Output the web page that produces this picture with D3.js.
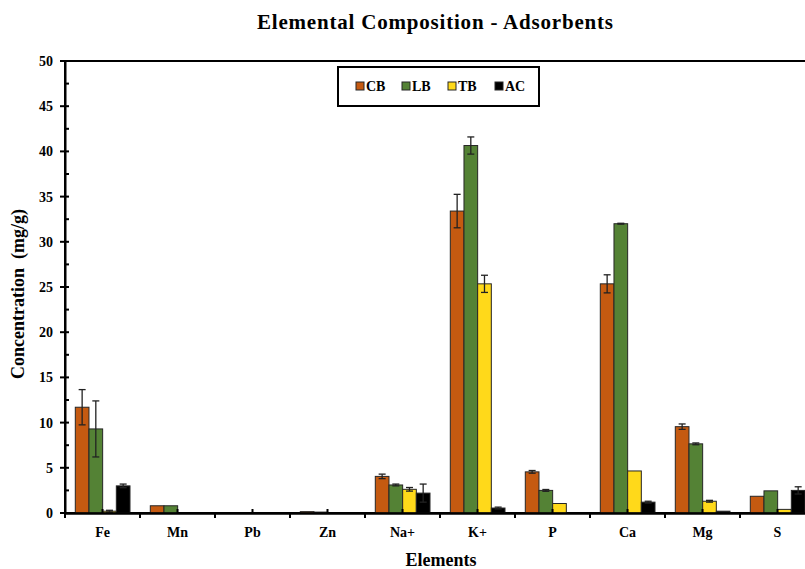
<!DOCTYPE html>
<html><head><meta charset="utf-8">
<script src="https://cdn.jsdelivr.net/npm/d3@7"></script>
<style>body{margin:0;background:#fff;} svg{display:block;}</style>
</head><body>
<svg id="c" width="805" height="569"></svg>
<script>
const categories = ["Fe","Mn","Pb","Zn","Na+","K+","P","Ca","Mg","S"];
const seriesNames = ["CB","LB","TB","AC"];
const colors = ["#C55A11","#548235","#FFD91A","#000000"];
const CB    = [11.7, 0.8, 0, 0.15, 4.05, 33.4, 4.55, 25.35, 9.55, 1.85];
const CBerr = [1.95, 0, 0, 0, 0.25, 1.85, 0.15, 1.0, 0.3, 0];
const LB    = [9.3, 0.8, 0, 0.1, 3.1, 40.65, 2.5, 32.0, 7.65, 2.45];
const LBerr = [3.1, 0, 0, 0, 0.1, 0.95, 0.1, 0.05, 0.1, 0];
const TB    = [0.2, 0, 0, 0, 2.62, 25.35, 1.05, 4.65, 1.3, 0.4];
const TBerr = [0.1, 0, 0, 0, 0.2, 0.95, 0, 0, 0.1, 0];
const AC    = [3.0, 0, 0, 0, 2.2, 0.55, 0, 1.2, 0.2, 2.5];
const ACerr = [0.2, 0, 0, 0, 1.0, 0.1, 0, 0.1, 0, 0.4];
const yTicks = [0,5,10,15,20,25,30,35,40,45,50];

const values = [CB, LB, TB, AC];
const errs = [CBerr, LBerr, TBerr, ACerr];
const font = "'Liberation Serif', serif";

const svg = d3.select("#c");
const L = 65, R = 815, T = 61, B = 513;
const x = d3.scaleBand().domain(categories).range([L, R]).padding(0);
const x1 = d3.scaleBand().domain(seriesNames).range([10.3, 65]).padding(0);
const y = d3.scaleLinear().domain([0, 50]).range([B, T]);

// plot border
svg.append("rect").attr("x", L).attr("y", T).attr("width", R - L).attr("height", B - T)
  .attr("fill", "none").attr("stroke", "#000").attr("stroke-width", 2);

// bars
const data = [];
categories.forEach((c, i) => seriesNames.forEach((s, j) => data.push({c, s, j, v: values[j][i], e: errs[j][i]})));
const g = svg.append("g");
g.selectAll("rect.bar").data(data.filter(d => d.v > 0)).join("rect")
  .attr("x", d => x(d.c) + x1(d.s)).attr("width", x1.bandwidth())
  .attr("y", d => y(d.v)).attr("height", d => y(0) - y(d.v))
  .attr("fill", d => colors[d.j]).attr("stroke", "#262626").attr("stroke-width", 1);

// error bars
const eb = svg.append("g").attr("stroke", "#222").attr("stroke-width", 1.3);
data.filter(d => d.e > 0).forEach(d => {
  const cx = x(d.c) + x1(d.s) + x1.bandwidth() / 2;
  eb.append("line").attr("x1", cx).attr("x2", cx).attr("y1", y(d.v + d.e)).attr("y2", y(Math.max(0, d.v - d.e)));
  eb.append("line").attr("x1", cx - 3.5).attr("x2", cx + 3.5).attr("y1", y(d.v + d.e)).attr("y2", y(d.v + d.e));
  if (d.v - d.e > 0) eb.append("line").attr("x1", cx - 3.5).attr("x2", cx + 3.5).attr("y1", y(d.v - d.e)).attr("y2", y(d.v - d.e));
});

// y axis
const yAxis = d3.axisLeft(y).tickValues(yTicks).tickSize(0).tickPadding(12);
const ya = svg.append("g").attr("transform", `translate(${L},0)`).call(yAxis);
ya.select(".domain").attr("stroke", "#000").attr("stroke-width", 2);
ya.selectAll("text").attr("font-family", font).attr("font-weight", "bold").attr("font-size", 14).attr("fill", "#000");
yTicks.forEach(t => {
  svg.append("line").attr("x1", L - 5).attr("x2", L + 4).attr("y1", y(t)).attr("y2", y(t)).attr("stroke", "#000").attr("stroke-width", 2);
  if (t < 50) svg.append("line").attr("x1", L).attr("x2", L + 4).attr("y1", y(t + 2.5)).attr("y2", y(t + 2.5)).attr("stroke", "#000").attr("stroke-width", 2);
});

// x axis
const xAxis = d3.axisBottom(x).tickSize(0).tickPadding(14);
const xa = svg.append("g").attr("transform", `translate(0,${B})`).call(xAxis);
xa.select(".domain").attr("stroke", "#000").attr("stroke-width", 2.5);
xa.selectAll("text").attr("font-family", font).attr("font-weight", "bold").attr("font-size", 14).attr("fill", "#000");
categories.forEach(c => {
  svg.append("line").attr("x1", x(c)).attr("x2", x(c)).attr("y1", B).attr("y2", B + 5).attr("stroke", "#000").attr("stroke-width", 2);
  const cx = x(c) + x.bandwidth() / 2;
  svg.append("line").attr("x1", cx).attr("x2", cx).attr("y1", B).attr("y2", B - 4).attr("stroke", "#000").attr("stroke-width", 2);
});

// titles
svg.append("text").attr("x", 435).attr("y", 29).attr("text-anchor", "middle")
  .attr("font-family", font).attr("font-weight", "bold").attr("font-size", 21)
  .attr("textLength", 356).attr("lengthAdjust", "spacing").text("Elemental Composition - Adsorbents");
svg.append("text").attr("x", 441).attr("y", 566).attr("text-anchor", "middle")
  .attr("font-family", font).attr("font-weight", "bold").attr("font-size", 18).text("Elements");
svg.append("text").attr("transform", "translate(24,294) rotate(-90)").attr("text-anchor", "middle")
  .attr("font-family", font).attr("font-weight", "bold").attr("font-size", 18).attr("xml:space", "preserve").text("Concentration  (mg/g)");

// legend
svg.append("rect").attr("x", 338).attr("y", 67).attr("width", 201).attr("height", 39)
  .attr("fill", "#fff").attr("stroke", "#000").attr("stroke-width", 2);
const legX = [356, 402, 448, 495];
seriesNames.forEach((s, j) => {
  svg.append("rect").attr("x", legX[j]).attr("y", 82).attr("width", 8).attr("height", 8)
    .attr("fill", colors[j]).attr("stroke", "#262626").attr("stroke-width", 1);
  svg.append("text").attr("x", legX[j] + 10).attr("y", 91).attr("font-family", font)
    .attr("font-weight", "bold").attr("font-size", 14).text(s);
});
</script>
</body></html>
